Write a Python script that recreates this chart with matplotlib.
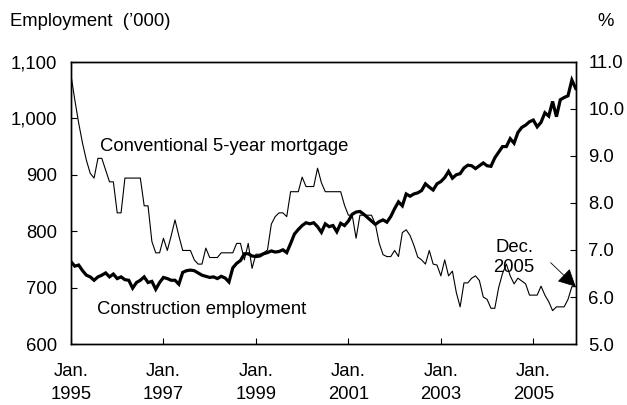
import numpy as np
import matplotlib
matplotlib.use("Agg")
import matplotlib.pyplot as plt

plt.rcParams['font.family'] = ['Liberation Sans', 'DejaVu Sans']

# Monthly data, Jan. 1995 (index 0) to Dec. 2005 (index 131)
employment = [
    746, 738, 740, 730, 722, 719, 713, 719, 722, 726, 719, 724,
    716, 719, 714, 713, 699, 709, 713, 719, 709, 711, 697, 709,
    718, 716, 713, 713, 706, 727, 730, 731, 730, 726, 722, 720,
    718, 719, 716, 720, 717, 710, 735, 743, 748, 760, 760, 756,
    755, 756, 760, 762, 765, 763, 764, 767, 762, 778, 795, 803,
    810, 815, 813, 815, 808, 798, 813, 808, 810, 799, 814, 810,
    818, 830, 834, 835, 830, 824, 818, 812, 817, 820, 816, 826,
    840, 852, 845, 866, 862, 866, 868, 872, 884, 878, 873, 884,
    888, 895, 906, 894, 900, 902, 912, 917, 916, 911, 916, 921,
    916, 915, 930, 940, 950, 950, 964, 956, 975, 984, 988, 994,
    997, 985, 993, 1010, 1004, 1030, 1003, 1033, 1037, 1040, 1068, 1053,
]
mortgage = [
    10.72, 10.19, 9.70, 9.27, 8.91, 8.63, 8.53, 8.95, 8.95, 8.70, 8.45, 8.45,
    7.79, 7.79, 8.53, 8.53, 8.53, 8.53, 8.53, 7.94, 7.94, 7.18, 6.94, 6.94,
    7.25, 6.99, 7.30, 7.64, 7.30, 6.99, 6.99, 6.99, 6.79, 6.70, 6.70, 7.04,
    6.84, 6.84, 6.84, 6.94, 6.94, 6.94, 6.94, 7.14, 7.14, 6.79, 7.14, 6.61,
    6.91, 6.91, 6.94, 7.00, 7.55, 7.71, 7.79, 7.79, 7.71, 8.24, 8.24, 8.24,
    8.55, 8.35, 8.35, 8.35, 8.74, 8.43, 8.24, 8.24, 8.24, 8.24, 8.24, 7.95,
    7.74, 7.74, 7.25, 7.74, 7.74, 7.74, 7.74, 7.55, 7.14, 6.90, 6.86, 6.86,
    6.99, 6.86, 7.37, 7.43, 7.31, 7.10, 6.85, 6.79, 6.70, 6.99, 6.70, 6.68,
    6.45, 6.79, 6.45, 6.55, 6.10, 5.79, 6.30, 6.30, 6.40, 6.45, 6.35, 6.00,
    5.95, 5.76, 5.76, 6.20, 6.50, 6.70, 6.45, 6.28, 6.40, 6.34, 6.28, 6.04,
    6.04, 6.04, 6.23, 6.04, 5.90, 5.71, 5.79, 5.79, 5.79, 5.95, 6.22, 6.22,
]
months = np.arange(len(employment))

x_tick_pos = [0, 24, 48, 72, 96, 120]
x_tick_labels = ["Jan.\n1995", "Jan.\n1997", "Jan.\n1999", "Jan.\n2001", "Jan.\n2003", "Jan.\n2005"]
left_ticks = [600, 700, 800, 900, 1000, 1100]
left_labels = ["600", "700", "800", "900", "1,000", "1,100"]
right_ticks = [5.0, 6.0, 7.0, 8.0, 9.0, 10.0, 11.0]
right_labels = ["5.0", "6.0", "7.0", "8.0", "9.0", "10.0", "11.0"]

FS = 13.3

fig = plt.figure(figsize=(6.27, 4.05), dpi=100)
ax = fig.add_axes([0.1132, 0.1506, 0.8050, 0.6964])
ax2 = ax.twinx()

ax.plot(months, employment, color='black', lw=2.3, solid_joinstyle='miter', zorder=3)
ax2.plot(months, mortgage, color='black', lw=0.8, zorder=2)

ax.set_xlim(0, 131)
ax.set_ylim(600, 1100)
ax2.set_ylim(5.0, 11.0)

ax.set_xticks(x_tick_pos)
ax.set_xticklabels(x_tick_labels, fontsize=FS, linespacing=1.45)
ax.set_yticks(left_ticks)
ax.set_yticklabels(left_labels, fontsize=FS)
ax2.set_yticks(right_ticks)
ax2.set_yticklabels(right_labels, fontsize=FS)

ax.tick_params(axis='x', direction='in', length=4, width=0.8, pad=14)
ax.tick_params(axis='y', direction='in', length=4, width=0.8, pad=10)
ax2.tick_params(axis='y', direction='in', length=4, width=0.8, pad=9)
for a in (ax, ax2):
    for s in a.spines.values():
        s.set_linewidth(1.0)

fig.text(10/627, 1 - 22/405, "Employment  (\u2019000)", fontsize=FS, ha='left', va='center')
fig.text(606/627, 1 - 22/405, "%", fontsize=FS, ha='center', va='center')

ax.text(7.5, 951, "Conventional 5-year mortgage", fontsize=FS, ha='left', va='center')
ax.text(6.8, 662, "Construction employment", fontsize=FS, ha='left', va='center')

ax2.text(115, 6.84, "Dec.\n2005", fontsize=FS, ha='center', va='center', linespacing=1.3)
ax2.annotate("", xy=(131, 6.22), xytext=(124.5, 6.73),
             arrowprops=dict(arrowstyle='-|>,head_length=0.55,head_width=0.28',
                             color='black', lw=0.6, mutation_scale=20,
                             shrinkA=0, shrinkB=0),
             annotation_clip=False)

fig.savefig("out.png", dpi=100)
